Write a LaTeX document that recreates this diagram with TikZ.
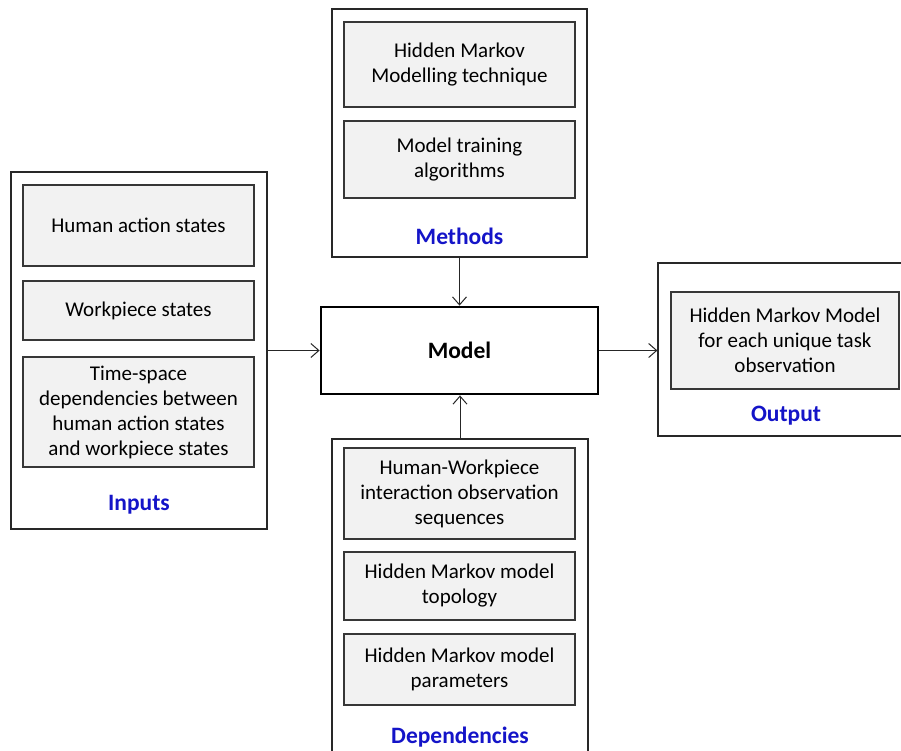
\documentclass[tikz,border=0pt]{standalone}
\usepackage{fontspec}
\setmainfont{Carlito}
\usetikzlibrary{arrows.meta}
\definecolor{panelline}{RGB}{40,40,40}
\definecolor{itemfill}{RGB}{242,242,242}
\definecolor{itemline}{RGB}{55,55,55}
\definecolor{labelblue}{RGB}{20,20,200}

\begin{document}
\begin{tikzpicture}[x=1pt,y=-1pt,
  panel/.style={draw=panelline, line width=1.2pt, fill=white, inner sep=0pt},
  item/.style={draw=itemline, line width=1.4pt, fill=itemfill, align=center,
    inner sep=0pt, minimum width=231pt, font=\fontsize{21}{25}\selectfont},
  caption/.style={font=\fontsize{23.5}{27}\selectfont\bfseries, text=labelblue, inner sep=0pt},
  core/.style={draw=black, line width=2.8pt, fill=white, inner sep=0pt,
    font=\fontsize{23.5}{27}\selectfont\bfseries},
  link/.style={draw=black!85, line width=1pt, -{Straight Barb[length=8pt,width=14pt]}}]

\clip (0,0) rectangle (901,751);
\fill[white] (0,0) rectangle (901,751);

% Inputs
\node[panel, minimum width=256pt, minimum height=357pt] (inputs) at (139,350.5) {};
\node[item, minimum height=81pt] (in1) at (138.5,225.5) {Human action states};
\node[item, minimum height=59pt] (in2) at (138.5,310.5) {Workpiece states};
\node[item, minimum height=110pt] (in3) at (138.5,412) {Time-space\\dependencies between\\human action states\\and workpiece states};
\node[caption] (inlbl) at (139,505) {Inputs};

% Methods
\node[panel, minimum width=255pt, minimum height=248pt] (methods) at (459.5,133) {};
\node[item, minimum height=85pt] (me1) at (459.5,64.5) {Hidden Markov\\Modelling technique};
\node[item, minimum height=77pt] (me2) at (459.5,159.5) {Model training\\algorithms};
\node[caption] (melbl) at (459.5,236) {Methods};

% Model
\node[core, minimum width=277pt, minimum height=87pt] (model) at (459.5,350.5) {Model};

% Dependencies
\node[panel, minimum width=256pt, minimum height=331pt] (deps) at (460,604.5) {};
\node[item, minimum height=91pt] (de1) at (459.5,493.5) {Human-Workpiece\\interaction observation\\sequences};
\node[item, minimum height=68pt] (de2) at (459.5,586) {Hidden Markov model\\topology};
\node[item, minimum height=71pt] (de3) at (459.5,669.5) {Hidden Markov model\\parameters};
\node[caption] (delbl) at (460,737) {Dependencies};

% Output
\node[panel, minimum width=247pt, minimum height=173pt] (output) at (781.5,349.5) {};
\node[item, minimum width=228pt, minimum height=97pt] (out1) at (785,340.5) {Hidden Markov Model\\for each unique task\\observation};
\node[caption] (outlbl) at (786,416) {Output};

% Connectors into and out of the model
\draw[link] (inputs.east) -- (model.west);
\draw[link] (methods.south) -- (model.north);
\draw[link] (deps.north) -- (deps.north |- model.south);
\draw[link] (model.east) -- (model.east -| output.west);
\end{tikzpicture}
\end{document}
